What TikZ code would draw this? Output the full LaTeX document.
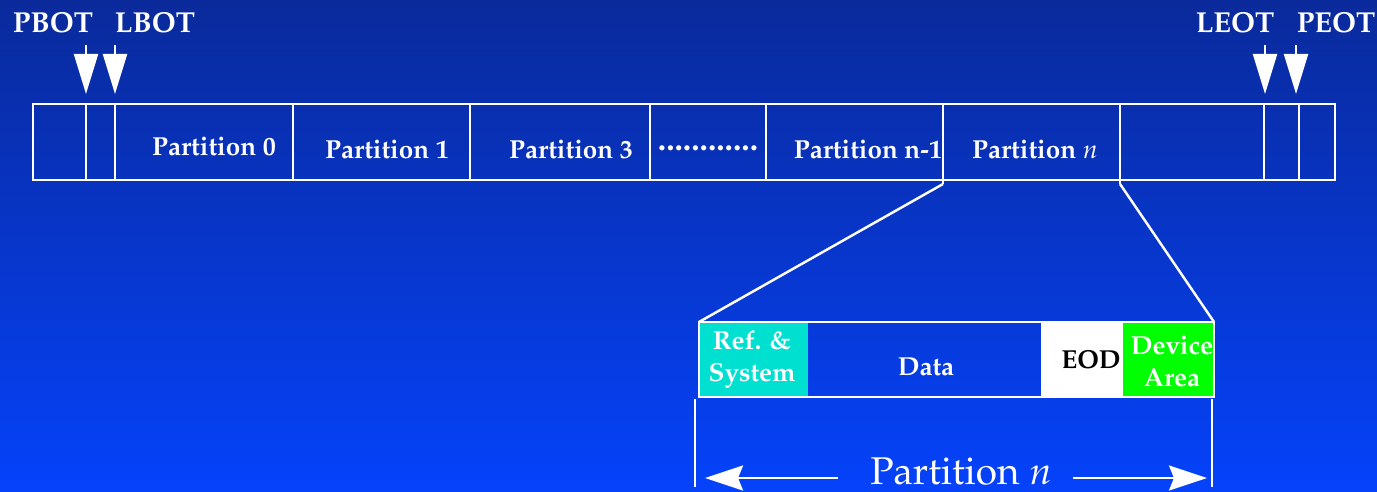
\documentclass[tikz,border=0pt]{standalone}
\usepackage[T1]{fontenc}
\usepackage{mathpazo}
\usetikzlibrary{arrows.meta}

\definecolor{bgtop}{RGB}{10,42,155}
\definecolor{bgbot}{RGB}{5,66,250}
\definecolor{refcyan}{RGB}{0,224,208}
\definecolor{devgreen}{RGB}{0,255,0}

\begin{document}
\begin{tikzpicture}[x=0.01cm, y=-0.01cm,
	lbl/.style={text=white, font=\fontsize{8.2}{10}\selectfont\bfseries, inner sep=0pt, anchor=base},
	part/.style={text=white, font=\fontsize{7.4}{9}\selectfont\bfseries, inner sep=0pt, anchor=base},
	cell/.style={text=white, font=\fontsize{7.4}{9.1}\selectfont\bfseries, inner sep=0pt, align=center},
	wline/.style={draw=white, line width=0.7pt},
	ptr/.style={white, line width=0.6pt, -{Triangle[length=0.4cm, width=0.24cm]}},
	span/.style={white, line width=0.7pt, -{Stealth[length=0.38cm, width=0.25cm, inset=0.05cm]}}]

	% background
	\fill[top color=bgtop, bottom color=bgbot] (0,0) rectangle (1377,491);
	\useasboundingbox (0,0) rectangle (1377,491);

	% tape ends
	\node[lbl] (pbot) at (53,33) {PBOT};
	\node[lbl] (lbot) at (155,33) {LBOT};
	\node[lbl] (leot) at (1235,33) {LEOT};
	\node[lbl] (peot) at (1336,33) {PEOT};

	\foreach \x/\name in {86/pb, 115/lb, 1265/le, 1296/pe} {
		\coordinate (\name top) at (\x,45);
		\coordinate (\name tip) at (\x,94);
		\draw[ptr] (\name top) -- (\name tip);
	}

	% the tape
	\draw[wline] (33,104) rectangle (1335,180);
	\foreach \x in {86,115,293,470,650,766,1264,1299}
		\draw[wline] (\x,104) -- (\x,180);
	\draw[wline] (943,104) -- (943,184) coordinate (pnl);
	\draw[wline] (1120,104) -- (1120,184) coordinate (pnr);

	\node[part] (p0) at (214,156) {Partition 0};
	\node[part] (p1) at (387,158) {Partition 1};
	\node[part] (p3) at (571,158) {Partition 3};
	\node[part, font=\fontsize{9.5}{10}\selectfont\bfseries] (dots) at (708,150) {............};
	\node[part] (pm) at (868,158) {Partition n-1};
	\node[part] (pn) at (1035,158) {Partition $n$};

	% partition n blown up
	\fill[refcyan] (699,322) rectangle (808,397);
	\fill[white] (1041,322) rectangle (1123,397);
	\fill[devgreen] (1123,322) rectangle (1214,397);
	\draw[wline] (699,322) coordinate (zl) rectangle (1214,397);
	\coordinate (zr) at (1214,322);
	\draw[wline] (pnl) -- (zl);
	\draw[wline] (pnr) -- (zr);

	\node[cell] (ref) at (752,359) {Ref. \&\\System};
	\node[cell, anchor=base] (data) at (926,375) {Data};
	\node[cell, anchor=base, text=black] (eod) at (1091,368) {EOD};
	\node[cell] (dev) at (1172,362) {Device\\Area};

	% size of partition n
	\draw[white, line width=0.6pt] (695,399) -- (695,487);
	\draw[white, line width=0.6pt] (1212,399) -- (1212,487);
	\node[text=white, font=\fontsize{11}{13}\selectfont, inner sep=0pt, anchor=base] (size) at (961,484) {Partition $n$};
	\coordinate (al) at (838,478);
	\coordinate (ar) at (1073,478);
	\draw[span] (al) -- (705,478);
	\draw[span] (ar) -- (1207,478);
\end{tikzpicture}
\end{document}
